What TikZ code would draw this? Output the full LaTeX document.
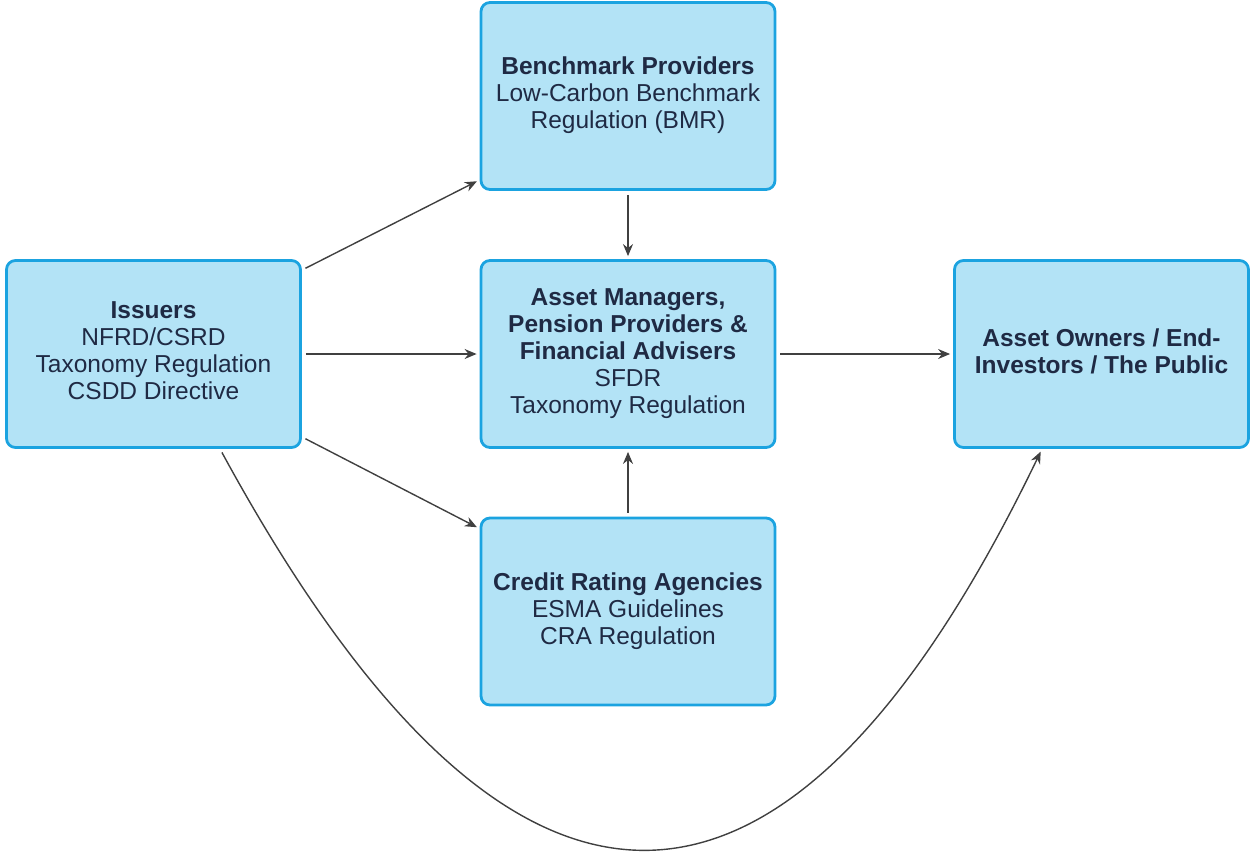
\documentclass[tikz,border=0pt]{standalone}
\usepackage{fontspec}
\setmainfont{Liberation Sans}
\usetikzlibrary{arrows.meta}
\definecolor{boxfill}{HTML}{B3E3F6}
\definecolor{boxline}{HTML}{1BA3E0}
\definecolor{boxtext}{HTML}{1F2A44}
\definecolor{arrowgray}{HTML}{404040}
\begin{document}
\begin{tikzpicture}[x=1pt,y=-1pt,
  actor/.style={draw=boxline, fill=boxfill, line width=2.8pt, rounded corners=9pt,
    minimum width=294pt, minimum height=187pt, align=center, text=boxtext,
    font=\fontsize{24.5}{27}\selectfont, inner sep=0pt},
  flow/.style={draw=arrowgray, line width=1.4pt, -{Stealth[length=12pt,width=10pt]},
    shorten <=4pt, shorten >=3pt}]
  \useasboundingbox (0,0) rectangle (1251,852);

  % actors (text lifted slightly above the box centre)
  \node[actor] (iss) at (153.5,354) {\textbf{Issuers}\\NFRD/CSRD\\Taxonomy Regulation\\CSDD Directive\\[-21pt]};
  \node[actor] (bm) at (628,96) {\textbf{Benchmark Providers}\\Low-Carbon Benchmark\\Regulation (BMR)\\[-21pt]};
  \node[actor] (am) at (628,354) {\textbf{Asset Managers,}\\\textbf{Pension Providers \&}\\\textbf{Financial Advisers}\\SFDR\\Taxonomy Regulation\\[-21pt]};
  \node[actor] (cra) at (628,611.5) {\textbf{Credit Rating Agencies}\\ESMA Guidelines\\CRA Regulation\\[-21pt]};
  \node[actor] (ao) at (1101.5,354) {\textbf{Asset Owners / End-}\\\textbf{Investors / The Public}\\[-21pt]};

  % information flows
  \draw[flow] ([yshift=-11pt]iss.north east) -- ([yshift=11pt]bm.south west);
  \draw[flow] (iss.east) -- (am.west);
  \draw[flow] ([yshift=12pt]iss.south east) -- ([yshift=-12pt]cra.north west);
  \draw[flow] (bm.south) -- (am.north);
  \draw[flow] (cra.north) -- (am.south);
  \draw[flow] (am.east) -- (ao.east -| ao.west);

  % direct route from issuers to end-investors
  \coordinate (c0) at ([xshift=66.5pt]iss.south);
  \coordinate (c1) at ([xshift=-59.5pt]ao.south);
  \draw[flow] (c0) .. controls (510,982) and (785,982) .. (c1);
\end{tikzpicture}
\end{document}
